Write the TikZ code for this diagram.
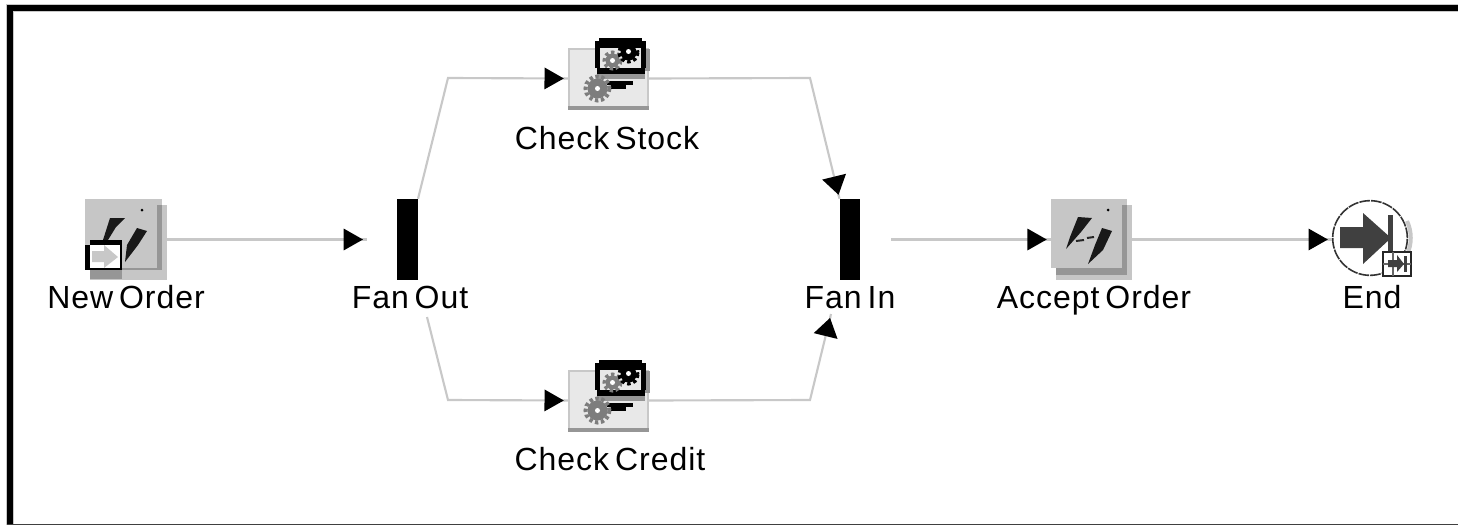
\documentclass[tikz,border=0pt]{standalone}
\usepackage{fontspec}
\setmainfont[WordSpace=0.6,LetterSpace=3]{Liberation Sans}
\usetikzlibrary{arrows.meta}
\definecolor{linegray}{RGB}{200,200,200}
\definecolor{boxgray}{RGB}{198,198,198}
\definecolor{shadowgray}{RGB}{150,150,150}
\definecolor{palegray}{RGB}{232,232,232}
\definecolor{geargray}{RGB}{125,125,125}
\tikzset{
  flow/.style={draw=linegray,line width=1.6pt,-{Triangle[length=14.5pt,width=16pt,color=black,sep=0pt]Rectangle[length=3pt,width=1.6pt,color=linegray,sep=0pt]}},
  flowslant/.style={draw=linegray,line width=1.6pt,-{Triangle[length=14pt,width=18pt,color=black,sep=0pt]Rectangle[length=3pt,width=1.6pt,color=linegray,sep=0pt]}},
  label/.style={inner sep=0pt,anchor=base,font=\fontsize{24}{28}\selectfont},
  bar/.style={fill=black,draw=none,minimum width=15.4pt,minimum height=60.8pt,inner sep=0pt},
  evbox/.style={draw=none,minimum width=60.75pt,minimum height=60.75pt,inner sep=0pt},
  fnbox/.style={fill=palegray,draw=linegray,line width=1.5pt,minimum width=59.5pt,minimum height=44pt,inner sep=0pt},
  bolt/.style={fill=black!90,draw=none},
  gear/.style={draw=geargray,line width=3pt,dash pattern=on 2.5pt off 2pt},
  fnicon/.pic={
    \fill[shadowgray] (-40.5,27) rectangle (40.5,31);
    \fill[shadowgray] (36,-30) rectangle (41.5,-8);
    \fill[shadowgray] (-12,-7) rectangle (36,0);
    \fill[black] (-10,-41) rectangle (33,-31);
    \fill[black] (-14,-38) rectangle (-9,-11);
    \fill[black] (32,-38) rectangle (37,-11);
    \fill[black] (-12,-11) rectangle (36,-5);
    \fill[palegray] (-9,-31) rectangle (32,-11);
    \fill[geargray] (4,-18) circle (7);
    \draw[gear] (4,-18) circle (8);
    \fill[black] (20,-26) circle (8);
    \draw[black,line width=3pt,dash pattern=on 2.5pt off 2pt] (20,-26) circle (9);
    \fill[white] (4,-18) circle (2.5);
    \fill[white] (20,-27) circle (2.5);
    \fill[black] (-2,2) rectangle (24,6);
    \fill[black] (2,6) rectangle (17,10);
    \fill[geargray] (-11,10) circle (10);
    \draw[gear] (-11,10) circle (12);
    \fill[white] (-11,10) circle (2.5);
  },
}
\begin{document}
\begin{tikzpicture}[x=0.75pt,y=0.75pt,yscale=-1,xscale=1]
\useasboundingbox (0,0) rectangle (1458,525);
%frame
\fill[linegray] (6,4) rectangle (1458,11.5);
\fill[linegray] (6,4) rectangle (14,525);
\fill (7,5) rectangle (1458,10.5);
\fill (7,5) rectangle (13,525);
\fill[black!75] (7,524) rectangle (1458,525);

%New Order
\node[evbox] (neworder) at (126,239.5) {};
\fill[boxgray] (90,205) rectangle (167,280);
\fill[boxgray] (85,199) rectangle (157,268);
\fill[shadowgray] (157,205) rectangle (162,270);
\fill[shadowgray] (90,268) rectangle (162,270);
\fill[boxgray] (85,199) rectangle (162,205);
\fill[bolt] (110,218) -- (125,218) -- (116,227) -- (108,240) -- (103,240) -- cycle;
\fill[bolt] (137,228) -- (147,231) -- (138,245) -- (125,262) -- (127,245) -- cycle;
\fill (142,210) circle (1.5);
\fill[shadowgray] (90,270) rectangle (122,279);
\fill[white] (90,244) rectangle (121,270);
\fill[black] (85,245) rectangle (90,270);
\fill[black] (90,240) rectangle (122,245);
\fill[black] (120,244) rectangle (122,270);
\fill[black] (90,268) rectangle (122,270);
\fill[linegray] (92,251) -- (104,251) -- (104,245) -- (118,257) -- (104,268) -- (104,262) -- (92,262) -- cycle;
\node[label] (neworderlabel) at (126,308) {New Order};

%Fan Out
\node[bar] (fanout) at (407.5,239.5) {};
\node[label] (fanoutlabel) at (410,308) {Fan Out};

%Check Stock
\node[fnbox] (stock) at (608.5,78.5) {};
\pic[yscale=-1] at (608.5,78.5) {fnicon};
\node[label] (stocklabel) at (607,149) {Check Stock};

%Check Credit
\node[fnbox] (credit) at (608.5,400.5) {};
\pic[yscale=-1] at (608.5,400.5) {fnicon};
\node[label] (creditlabel) at (610,470) {Check Credit};

%Fan In
\node[bar] (fanin) at (850,239.5) {};
\node[label] (faninlabel) at (850,308) {Fan In};

%Accept Order
\node[evbox] (accept) at (1091.5,239.5) {};
\fill[boxgray] (1056,205) rectangle (1132,280);
\fill[shadowgray] (1122,205) rectangle (1127,275);
\fill[shadowgray] (1056,268) rectangle (1127,275);
\fill[boxgray] (1051,199) rectangle (1122,268);
\fill[boxgray] (1051,199) rectangle (1127,205);
\fill[bolt] (1078,217) -- (1092,218) -- (1081,232) -- (1066,249) -- (1070,237) -- cycle;
\fill[bolt] (1102,228) -- (1112,231) -- (1103,250) -- (1088,264) -- (1095,245) -- cycle;
\draw[line width=1.5pt,black!85] (1076,241) -- (1084,240);
\draw[line width=1.5pt,black!85] (1087,238) -- (1094,237);
\fill (1108,210) circle (1.5);
\node[label] (acceptlabel) at (1094,308) {Accept Order};

%End
\draw[linegray,line width=3pt] (1407,221) arc (-25:25:40);
\node[circle,draw=black!80,fill=white,line width=1.2pt,dash pattern=on 8pt off 0.8pt,minimum size=56pt,inner sep=0pt] (endnode) at (1370,238) {};
\fill[black!75] (1340,227) -- (1363,227) -- (1363,213) -- (1391,238) -- (1363,264) -- (1363,248) -- (1340,248) -- cycle;
\fill[black!75] (1388,215) rectangle (1393,252);
\fill[white] (1382,251) rectangle (1412,277);
\draw[line width=1.5pt,black!85] (1383,252) rectangle (1411,276);
\draw[line width=1pt,black!60] (1383,264) -- (1411,264);
\draw[line width=1pt,black!60] (1393,252) -- (1393,276);
\fill[black!75] (1388,260) -- (1397,260) -- (1397,255) -- (1404,264) -- (1397,272) -- (1397,267) -- (1388,267) -- cycle;
\fill[black!75] (1404,256) rectangle (1407,272);
\node[label] (endlabel) at (1372,308) {End};

%free ends and bends
\coordinate (fanoutin) at (367,239.5);
\coordinate (bendtopa) at (448,78);
\coordinate (bendbota) at (448,400);
\coordinate (fanoutbot) at (427,317);
\coordinate (bendtopb) at (810,78);
\coordinate (bendbotb) at (810,400);
\coordinate (faninbot) at (831,314);
\coordinate (faninout) at (891,239.5);

%connectors
\draw[flow] (neworder.east) -- (fanoutin);
\draw[flow] (fanout.north east) -- (bendtopa) -- (stock.west);
\draw[flow] (fanoutbot) -- (bendbota) -- (credit.west);
\draw[flowslant] (stock.east) -- (bendtopb) -- (fanin.north west);
\draw[flowslant] (credit.east) -- (bendbotb) -- (faninbot);
\draw[flow] (faninout) -- (accept.west);
\draw[flow] (accept.east) -- (endnode.west |- accept.east);
\end{tikzpicture}
\end{document}
